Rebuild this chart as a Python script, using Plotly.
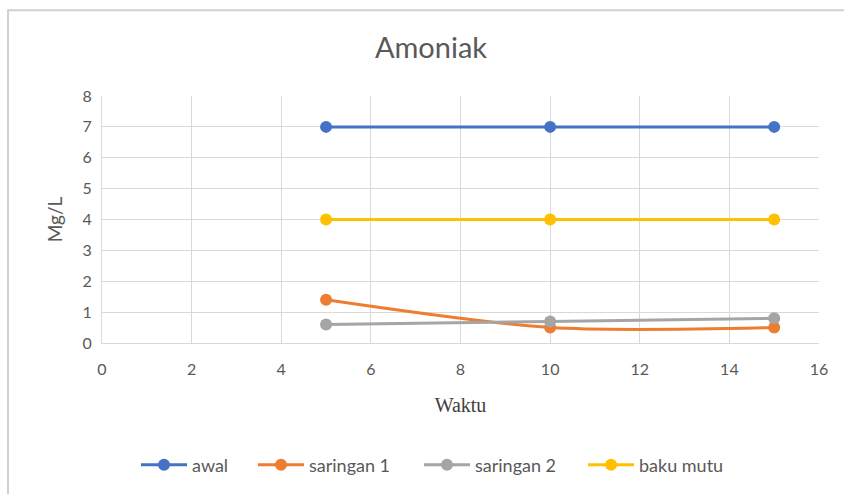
import plotly.graph_objects as go

waktu = [5, 10, 15]
awal = [7, 7, 7]
saringan1 = [1.4, 0.5, 0.5]
saringan2 = [0.6, 0.7, 0.8]
baku_mutu = [4, 4, 4]

x_ticks = [0, 2, 4, 6, 8, 10, 12, 14, 16]
y_ticks = [0, 1, 2, 3, 4, 5, 6, 7, 8]

series = [
    ("awal", awal, "#4472C4", "linear"),
    ("saringan 1", saringan1, "#ED7D31", "spline"),
    ("saringan 2", saringan2, "#A5A5A5", "spline"),
    ("baku mutu", baku_mutu, "#FFC000", "linear"),
]
legend_names = ["legend", "legend2", "legend3", "legend4"]
legend_left = [138, 255, 421, 585]  # screen x where each legend symbol starts

fig = go.Figure()
for (name, vals, col, shp), lg in zip(series, legend_names):
    fig.add_trace(go.Scatter(
        x=waktu, y=vals, name=name, mode="lines+markers",
        line=dict(color=col, width=3, shape=shp, smoothing=0.8),
        marker=dict(color=col, size=12),
        legend=lg,
    ))

W, H = 844, 494
ml, mr, mt, mb = 102, 844 - 819, 96, 494 - 344
pw, ph = W - ml - mr, H - mt - mb

def px(xs):
    return (xs - ml) / pw

def py(ys):
    return 1 - (ys - mt) / ph

FONT = "Lato"
layout_legends = {}
for lg, lx in zip(legend_names, legend_left):
    layout_legends[lg] = dict(
        orientation="h", x=px(lx - 2), xanchor="left", y=py(465), yanchor="middle",
        font=dict(family=FONT, size=18, color="#595959"), itemwidth=46,
        bgcolor="rgba(0,0,0,0)", borderwidth=0,
    )

fig.update_layout(
    width=W, height=H,
    margin=dict(l=ml, r=mr, t=mt, b=mb),
    paper_bgcolor="white", plot_bgcolor="white",
    font=dict(family=FONT, color="#595959", size=15),
    title=dict(text="Amoniak", xref="container", x=431 / W, xanchor="center",
               yref="container", y=1 - 48 / H, yanchor="middle",
               font=dict(family=FONT, size=29, color="#595959")),
    xaxis=dict(range=[0, 16], tickvals=x_ticks, showgrid=True, gridcolor="#d9d9d9", gridwidth=1,
               showline=True, linecolor="#d9d9d9", linewidth=1, zeroline=False,
               ticks="outside", ticklen=12, tickcolor="rgba(0,0,0,0)",
               tickfont=dict(family=FONT, size=16, color="#595959"), fixedrange=True,
               title=dict(text="Waktu", font=dict(family="Liberation Serif", size=20, color="#404040"), standoff=20)),
    yaxis=dict(range=[0, 8], tickvals=y_ticks, showgrid=True, gridcolor="#d9d9d9", gridwidth=1,
               showline=True, linecolor="#d9d9d9", linewidth=1, zeroline=False,
               ticks="outside", ticklen=6, tickcolor="rgba(0,0,0,0)",
               tickfont=dict(family=FONT, size=16, color="#595959"), fixedrange=True,
               title=dict(text="Mg/L", font=dict(family=FONT, size=19, color="#595959"), standoff=14)),
    showlegend=True,
    **layout_legends,
)

fig.add_shape(type="rect", xref="paper", yref="paper",
              x0=px(8), x1=px(870), y0=py(520), y1=py(10),
              line=dict(color="#d0d0d0", width=2), layer="below")

fig.write_html("out.html", config={"displayModeBar": False},
               post_script="document.body.style.margin='0';document.body.style.overflow='hidden';")
